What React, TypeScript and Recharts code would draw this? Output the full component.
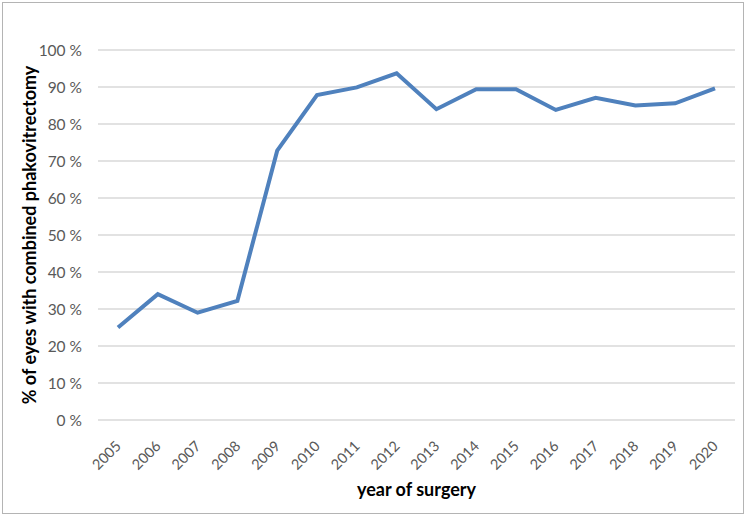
import React from 'react';
import { LineChart, CartesianGrid, XAxis, YAxis, Line } from 'recharts';

const years = ['2005', '2006', '2007', '2008', '2009', '2010', '2011', '2012', '2013', '2014', '2015', '2016', '2017', '2018', '2019', '2020'];
const combinedPct = [25, 34, 29, 32.2, 72.8, 87.8, 89.9, 93.7, 84, 89.4, 89.4, 83.8, 87.1, 85, 85.6, 89.6];
const yTicks = [0, 10, 20, 30, 40, 50, 60, 70, 80, 90, 100];

const FONT = 'Lato, "Open Sans", sans-serif';

const chartData = years.map((year, i) => ({ year, value: combinedPct[i] }));

const YearTick = ({ x, y, payload }: any) => (
  <g transform={`translate(${x + 4},${y + 27})`}>
    <text x={0} y={0} textAnchor="end" transform="rotate(-45)" fill="#595959" fontSize={14.5} fontFamily={FONT}>
      {payload.value}
    </text>
  </g>
);

const App: React.FC = () => {
  return (
    <div style={{ position: 'absolute', left: 0, top: 0, width: 749, height: 517, background: '#fff' }}>
      <div style={{ position: 'absolute', left: 2, top: 2, width: 740, height: 510, border: '1px solid #b4b4b4' }} />
      <div style={{ position: 'absolute', left: 0, top: 0 }}>
        <LineChart width={749} height={517} data={chartData} margin={{ top: 50, right: 14, left: 0, bottom: 0 }}>
          <CartesianGrid vertical={false} stroke="#d9d9d9" strokeWidth={1.3} />
          <XAxis
            dataKey="year"
            height={97}
            axisLine={false}
            tickLine={false}
            tickSize={0}
            tickMargin={0}
            interval={0}
            padding={{ left: 20, right: 20 }}
            tick={<YearTick />}
            label={{ value: 'year of surgery', position: 'insideBottom', offset: 21, fill: '#000', fontSize: 18, fontWeight: 700, fontFamily: FONT }}
          />
          <YAxis
            width={98}
            domain={[0, 100]}
            ticks={yTicks}
            interval={0}
            axisLine={false}
            tickLine={false}
            tickSize={0}
            tickMargin={16}
            tickFormatter={(v) => `${v} %`}
            tick={{ fill: '#595959', fontSize: 15.5, fontFamily: FONT }}
            label={{ value: '% of eyes with combined phakovitrectomy', angle: -90, position: 'insideLeft', offset: 30, fill: '#000', fontSize: 18, fontWeight: 700, fontFamily: FONT, style: { textAnchor: 'middle' } }}
          />
          <Line type="linear" dataKey="value" stroke="#4F81BD" strokeWidth={4} dot={false} isAnimationActive={false} />
        </LineChart>
      </div>
    </div>
  );
};

export default App;
